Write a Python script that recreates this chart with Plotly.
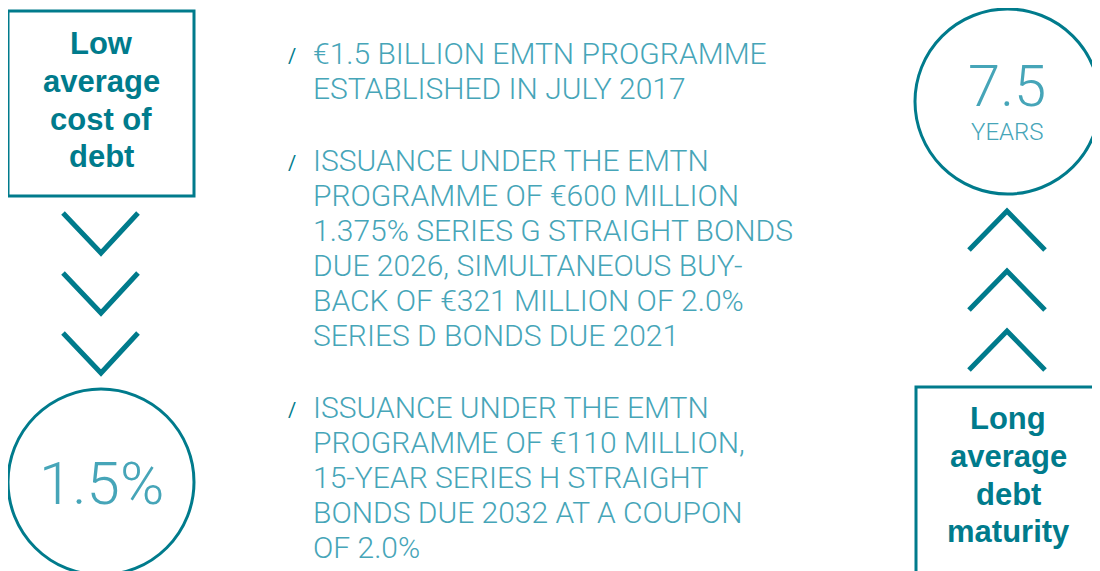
import plotly.graph_objects as go

# ---- content ----
left_title = ["Low", "average", "cost of", "debt"]
right_title = ["Long", "average", "debt", "maturity"]
cost_value = "1.5%"
maturity_value = "7.5"
maturity_unit = "YEARS"
bullets = [
    ["€1.5 BILLION EMTN PROGRAMME", "ESTABLISHED IN JULY 2017"],
    ["ISSUANCE UNDER THE EMTN", "PROGRAMME OF €600 MILLION",
     "1.375% SERIES G STRAIGHT BONDS", "DUE 2026, SIMULTANEOUS BUY-",
     "BACK OF €321 MILLION OF 2.0%", "SERIES D BONDS DUE 2021"],
    ["ISSUANCE UNDER THE EMTN", "PROGRAMME OF €110 MILLION,",
     "15-YEAR SERIES H STRAIGHT", "BONDS DUE 2032 AT A COUPON", "OF 2.0%"],
]

DARK = "#007B8C"
LIGHT = "#46A5B8"
W, H = 1100, 571
OFF = 8  # page body margin

fig = go.Figure()
fig.add_trace(go.Scatter(x=[0, W], y=[0, H], mode="markers",
                         marker=dict(opacity=0), hoverinfo="skip", showlegend=False))

shapes = []
shapes.append(dict(type="rect", x0=8, x1=194, y0=11, y1=196,
                   line=dict(color=DARK, width=3)))
shapes.append(dict(type="rect", x0=916, x1=1112, y0=387, y1=585,
                   line=dict(color=DARK, width=3)))
shapes.append(dict(type="circle", x0=8, x1=194, y0=389, y1=575,
                   line=dict(color=DARK, width=3)))
shapes.append(dict(type="circle", x0=915, x1=1100, y0=9, y1=194,
                   line=dict(color=DARK, width=3)))
for top in [213, 273, 333]:
    shapes.append(dict(type="path",
                       path=f"M 63 {top} L 101 {top+40} L 138 {top}",
                       line=dict(color=DARK, width=5)))
for apex in [211, 271, 331]:
    shapes.append(dict(type="path",
                       path=f"M 969 {apex+39} L 1007 {apex} L 1045 {apex+39}",
                       line=dict(color=DARK, width=5)))

ann = []
bold_font = dict(family="Liberation Sans, Arial, sans-serif", size=31, color=DARK, weight="bold")
for txt, y in zip(left_title, [43, 81, 119, 156]):
    ann.append(dict(x=101, y=y, text=txt, showarrow=False, xanchor="center",
                    yanchor="middle", font=bold_font))
for txt, y in zip(right_title, [418, 456, 494, 531]):
    ann.append(dict(x=1008, y=y, text=txt, showarrow=False, xanchor="center",
                    yanchor="middle", font=bold_font))

light = dict(family="Roboto Light, Roboto, sans-serif", color=LIGHT, weight=300)
ann.append(dict(x=101, y=483, text=cost_value, showarrow=False, xanchor="center",
                yanchor="middle", font=dict(**light, size=60)))
ann.append(dict(x=1007, y=86, text=maturity_value, showarrow=False, xanchor="center",
                yanchor="middle", font=dict(**light, size=58)))
ann.append(dict(x=1007, y=132, text=maturity_unit, showarrow=False, xanchor="center",
                yanchor="middle", font=dict(**light, size=24)))

starts = [53, 160, 407]
for lines, y0 in zip(bullets, starts):
    ann.append(dict(x=292, y=y0 + 3, text="/", showarrow=False, xanchor="center",
                    yanchor="middle", font=dict(family="Roboto, sans-serif",
                                                size=20, color=DARK)))
    for i, txt in enumerate(lines):
        ann.append(dict(x=311, y=y0 + 35 * i, text=txt, showarrow=False,
                        xanchor="left", yanchor="middle",
                        font=dict(**light, size=30)))

fig.update_layout(
    width=W, height=H, margin=dict(l=0, r=0, t=0, b=0),
    paper_bgcolor="white", plot_bgcolor="white",
    xaxis=dict(range=[OFF, W + OFF], visible=False, fixedrange=True),
    yaxis=dict(range=[H + OFF, OFF], visible=False, fixedrange=True),
    shapes=shapes, annotations=ann, showlegend=False,
)
fig.write_html("out.html", config={"displayModeBar": False})
